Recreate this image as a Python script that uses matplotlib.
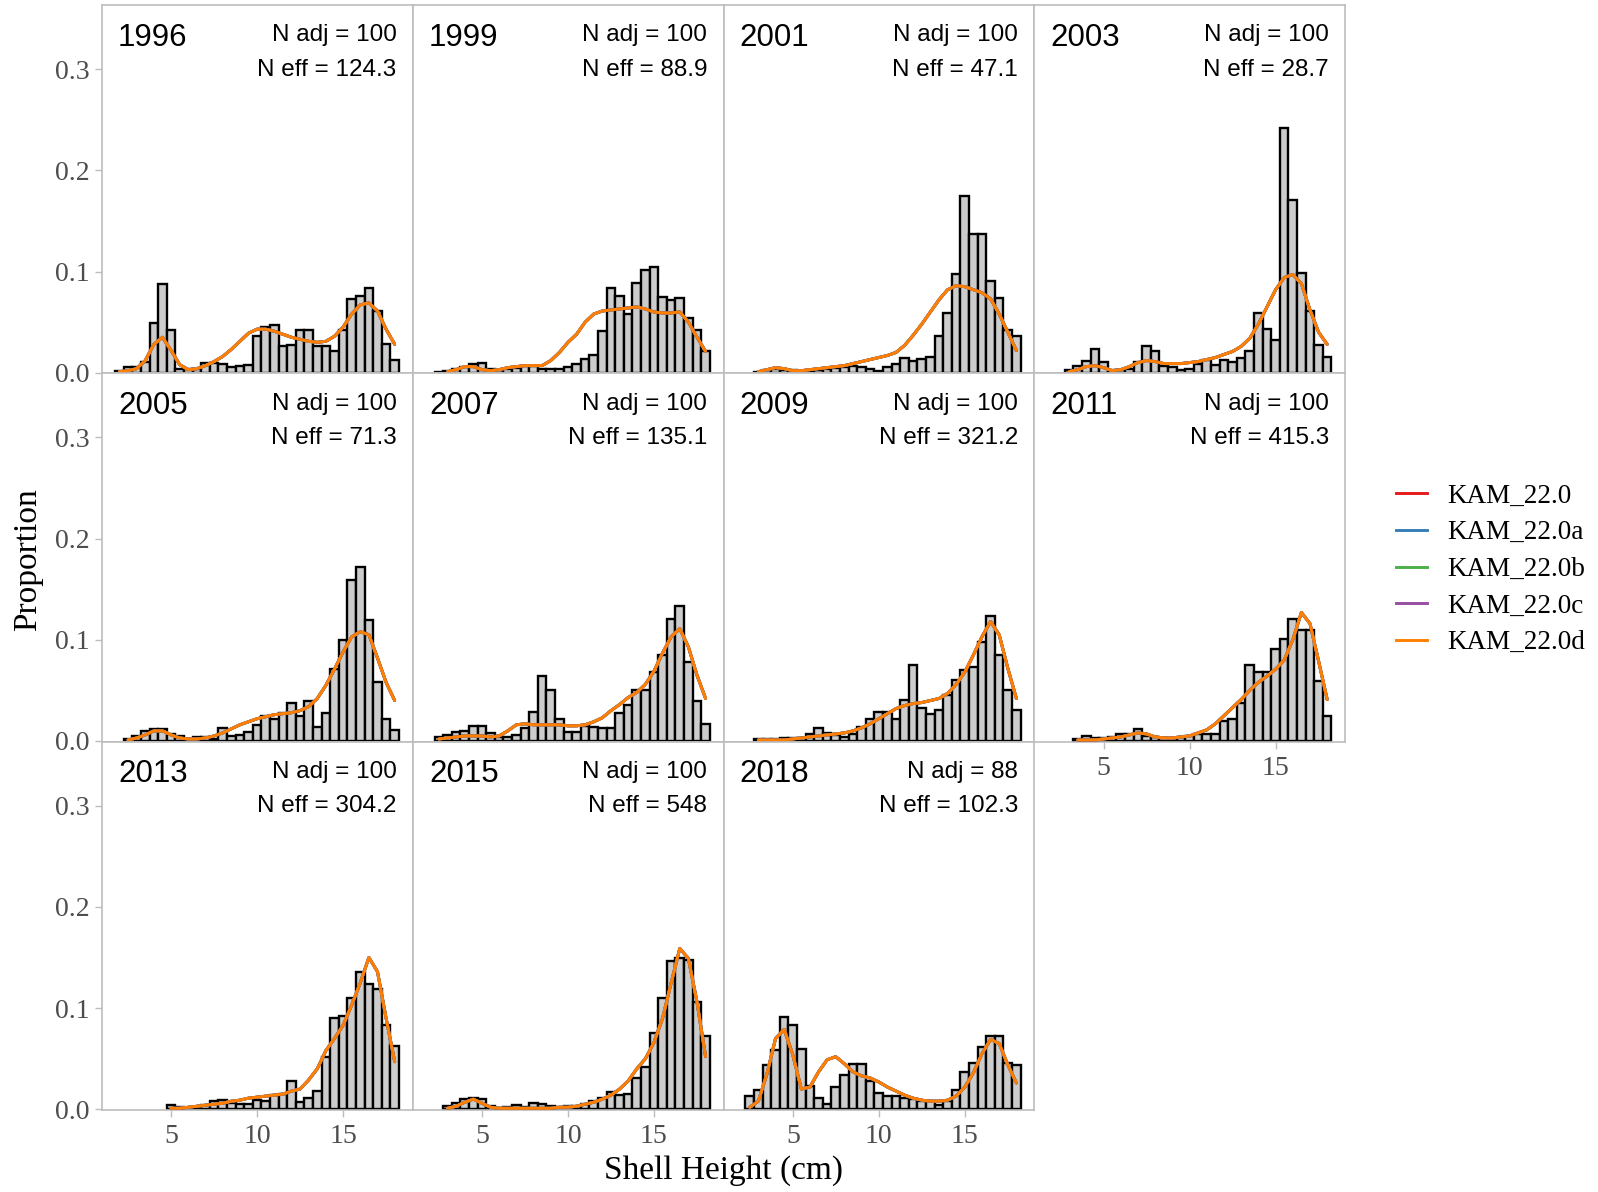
import numpy as np
import matplotlib.pyplot as plt
from matplotlib.lines import Line2D

# shell height bins (cm)
length_bins = [2.0, 2.5, 3.0, 3.5, 4.0, 4.5, 5.0, 5.5, 6.0, 6.5, 7.0, 7.5, 8.0, 8.5, 9.0, 9.5, 10.0,
               10.5, 11.0, 11.5, 12.0, 12.5, 13.0, 13.5, 14.0, 14.5, 15.0, 15.5, 16.0, 16.5, 17.0, 17.5, 18.0]

years = ['1996', '1999', '2001', '2003', '2005', '2007', '2009', '2011', '2013', '2015', '2018']
n_adj = ['100', '100', '100', '100', '100', '100', '100', '100', '100', '100', '88']
n_eff = ['124.3', '88.9', '47.1', '28.7', '71.3', '135.1', '321.2', '415.3', '304.2', '548', '102.3']

models = ['KAM_22.0', 'KAM_22.0a', 'KAM_22.0b', 'KAM_22.0c', 'KAM_22.0d']
model_colors = ['#E41A1C', '#377EB8', '#4DAF4A', '#984EA3', '#FF7F00']

# observed proportions
obs = {
    '1996': [0.002, 0.006, 0.006, 0.011, 0.049, 0.088, 0.042, 0.004, 0.004, 0.004, 0.010, 0.010, 0.009,
             0.006, 0.007, 0.008, 0.036, 0.045, 0.047, 0.026, 0.027, 0.042, 0.042, 0.026, 0.026, 0.021,
             0.042, 0.073, 0.076, 0.084, 0.061, 0.028, 0.013],
    '1999': [0, 0.001, 0.002, 0.004, 0.006, 0.009, 0.010, 0.004, 0.003, 0.004, 0.005, 0.007, 0.007,
             0.004, 0.004, 0.004, 0.006, 0.009, 0.014, 0.017, 0.041, 0.084, 0.076, 0.058, 0.089, 0.101,
             0.104, 0.075, 0.072, 0.074, 0.054, 0.042, 0.021],
    '2001': [0, 0, 0.001, 0.003, 0.004, 0.003, 0.003, 0.002, 0.002, 0.003, 0.004, 0.005, 0.006,
             0.007, 0.006, 0.004, 0.002, 0.006, 0.009, 0.015, 0.012, 0.014, 0.016, 0.036, 0.059, 0.098,
             0.175, 0.137, 0.137, 0.091, 0.074, 0.042, 0.036],
    '2003': [0, 0, 0.003, 0.007, 0.012, 0.023, 0.011, 0.003, 0.003, 0.004, 0.011, 0.026, 0.021,
             0.007, 0.006, 0.003, 0.004, 0.009, 0.013, 0.008, 0.013, 0.011, 0.015, 0.021, 0.059, 0.043,
             0.032, 0.242, 0.171, 0.099, 0.061, 0.027, 0.016],
    '2005': [0, 0.002, 0.005, 0.010, 0.012, 0.012, 0.007, 0.005, 0.002, 0.004, 0.004, 0.002, 0.013,
             0.005, 0.006, 0.009, 0.016, 0.025, 0.022, 0.028, 0.038, 0.025, 0.040, 0.014, 0.028, 0.071,
             0.100, 0.159, 0.172, 0.120, 0.058, 0.022, 0.011],
    '2007': [0, 0.004, 0.006, 0.009, 0.010, 0.015, 0.015, 0.008, 0.004, 0.004, 0.006, 0.013, 0.029,
             0.064, 0.050, 0.022, 0.009, 0.009, 0.015, 0.014, 0.013, 0.013, 0.028, 0.036, 0.050, 0.050,
             0.068, 0.085, 0.121, 0.133, 0.078, 0.040, 0.017],
    '2009': [0, 0, 0.002, 0.002, 0.002, 0.003, 0.003, 0.003, 0.007, 0.013, 0.008, 0.006, 0.004,
             0.007, 0.014, 0.022, 0.029, 0.029, 0.022, 0.041, 0.075, 0.033, 0.027, 0.031, 0.045, 0.060,
             0.070, 0.073, 0.098, 0.124, 0.085, 0.050, 0.031],
    '2011': [0, 0, 0, 0.002, 0.005, 0.003, 0.003, 0.004, 0.007, 0.007, 0.012, 0.005, 0.004,
             0.003, 0.003, 0.004, 0.005, 0.007, 0.007, 0.007, 0.020, 0.022, 0.038, 0.075, 0.068, 0.068,
             0.091, 0.101, 0.121, 0.110, 0.110, 0.059, 0.025],
    '2013': [0, 0, 0, 0, 0, 0, 0.004, 0.002, 0.001, 0.002, 0.004, 0.008, 0.009,
             0.006, 0.005, 0.005, 0.009, 0.008, 0.014, 0.015, 0.028, 0.007, 0.011, 0.018, 0.052, 0.090,
             0.092, 0.110, 0.136, 0.124, 0.119, 0.083, 0.063],
    '2015': [0, 0, 0.003, 0.006, 0.010, 0.011, 0.010, 0.003, 0.001, 0.002, 0.004, 0.002, 0.006,
             0.005, 0.003, 0.002, 0.003, 0.003, 0.005, 0.008, 0.011, 0.017, 0.014, 0.015, 0.031, 0.042,
             0.075, 0.110, 0.147, 0.150, 0.148, 0.106, 0.072],
    '2018': [0, 0.013, 0.019, 0.044, 0.059, 0.091, 0.083, 0.060, 0.023, 0.011, 0.005, 0.022, 0.034,
             0.045, 0.045, 0.028, 0.016, 0.013, 0.013, 0.011, 0.010, 0.008, 0.008, 0.004, 0.008, 0.019,
             0.037, 0.046, 0.062, 0.072, 0.072, 0.046, 0.044],
}

# model fits (the five runs are nearly identical)
fit = {
    '1996': [0.001, 0.002, 0.004, 0.012, 0.028, 0.035, 0.022, 0.008, 0.003, 0.004, 0.007, 0.011, 0.016,
             0.023, 0.031, 0.039, 0.043, 0.043, 0.041, 0.038, 0.035, 0.033, 0.031, 0.030, 0.031, 0.036,
             0.045, 0.058, 0.067, 0.069, 0.061, 0.043, 0.028],
    '1999': [None, None, 0.001, 0.003, 0.006, 0.006, 0.003, 0.002, 0.003, 0.005, 0.006, 0.007, 0.007,
             0.007, 0.012, 0.020, 0.030, 0.038, 0.050, 0.058, 0.061, 0.062, 0.063, 0.064, 0.065, 0.063,
             0.060, 0.059, 0.059, 0.060, 0.050, 0.035, 0.021],
    '2001': [None, None, 0.001, 0.003, 0.005, 0.004, 0.002, 0.002, 0.003, 0.004, 0.005, 0.006, 0.007,
             0.009, 0.011, 0.013, 0.015, 0.017, 0.020, 0.027, 0.037, 0.048, 0.060, 0.072, 0.082, 0.086,
             0.085, 0.082, 0.079, 0.073, 0.058, 0.040, 0.022],
    '2003': [None, None, 0.001, 0.003, 0.006, 0.007, 0.005, 0.002, 0.003, 0.006, 0.010, 0.012, 0.011,
             0.009, 0.009, 0.009, 0.010, 0.011, 0.013, 0.015, 0.018, 0.021, 0.026, 0.034, 0.048, 0.065,
             0.082, 0.094, 0.097, 0.088, 0.062, 0.040, 0.028],
    '2005': [None, 0.001, 0.003, 0.006, 0.010, 0.010, 0.006, 0.003, 0.002, 0.002, 0.003, 0.005, 0.008,
             0.012, 0.016, 0.019, 0.022, 0.024, 0.026, 0.027, 0.028, 0.030, 0.034, 0.042, 0.055, 0.071,
             0.088, 0.103, 0.108, 0.105, 0.082, 0.058, 0.040],
    '2007': [None, 0.002, 0.003, 0.004, 0.005, 0.005, 0.005, 0.004, 0.005, 0.010, 0.016, 0.017, 0.016,
             0.016, 0.016, 0.016, 0.015, 0.015, 0.016, 0.019, 0.023, 0.030, 0.036, 0.043, 0.048, 0.056,
             0.069, 0.087, 0.103, 0.111, 0.093, 0.065, 0.042],
    '2009': [None, None, 0.001, 0.001, 0.001, 0.001, 0.002, 0.003, 0.004, 0.005, 0.006, 0.007, 0.008,
             0.010, 0.013, 0.017, 0.022, 0.027, 0.032, 0.035, 0.037, 0.038, 0.040, 0.042, 0.047, 0.056,
             0.068, 0.085, 0.103, 0.118, 0.105, 0.072, 0.042],
    '2011': [None, None, None, 0.001, 0.001, 0.001, 0.002, 0.003, 0.004, 0.006, 0.008, 0.007, 0.004,
             0.003, 0.003, 0.004, 0.005, 0.008, 0.011, 0.017, 0.025, 0.033, 0.041, 0.050, 0.058, 0.064,
             0.071, 0.080, 0.100, 0.127, 0.116, 0.079, 0.041],
    '2013': [None, None, None, None, None, None, 0.001, 0.001, 0.002, 0.003, 0.004, 0.005, 0.006,
             0.008, 0.009, 0.011, 0.012, 0.013, 0.014, 0.015, 0.018, 0.020, 0.029, 0.040, 0.058, 0.070,
             0.083, 0.103, 0.125, 0.150, 0.136, 0.090, 0.047],
    '2015': [None, None, 0.001, 0.003, 0.007, 0.010, 0.006, 0.002, 0.001, 0.001, 0.001, 0.001, 0.001,
             0.001, 0.001, 0.002, 0.002, 0.003, 0.005, 0.007, 0.010, 0.014, 0.020, 0.028, 0.040, 0.050,
             0.066, 0.090, 0.125, 0.159, 0.149, 0.106, 0.052],
    '2018': [None, 0.002, 0.008, 0.035, 0.070, 0.079, 0.054, 0.020, 0.022, 0.037, 0.049, 0.052, 0.045,
             0.037, 0.033, 0.031, 0.027, 0.022, 0.018, 0.014, 0.011, 0.009, 0.008, 0.008, 0.009, 0.013,
             0.022, 0.036, 0.055, 0.069, 0.065, 0.044, 0.026],
}

serif = ['Liberation Serif', 'DejaVu Serif']
sans = ['Liberation Sans', 'DejaVu Sans']
grid_col = '#bdbdbd'
tick_col = '#4d4d4d'

W, H = 1598, 1192
fig = plt.figure(figsize=(W / 100, H / 100), dpi=100)

col_left = [101.9, 412.8, 723.6, 1034.4]
pw = 310.85
row_top = [5.1, 373.4, 741.7]
ph = 368.3

x = np.array(length_bins)
for i, yr in enumerate(years):
    r, c = divmod(i, 4)
    ax = fig.add_axes([col_left[c] / W, 1 - (row_top[r] + ph) / H, pw / W, ph / H])
    o = np.array(obs[yr], dtype=float)
    keep = o > 0
    ax.bar(x[keep], o[keep], width=0.5, color='#cccccc', edgecolor='black', linewidth=1.7, zorder=2)
    f = np.array(fit[yr], dtype=float)
    for m, col in zip(models, model_colors):
        ax.plot(x, f, color=col, lw=2.1, zorder=3, solid_capstyle='round')

    ax.set_xlim(0.98, 19.05)
    ax.set_ylim(-0.0007, 0.3633)
    ax.set_xticks([5, 10, 15])
    ax.set_yticks([0.0, 0.1, 0.2, 0.3])
    ax.tick_params(colors=grid_col, length=5, width=1.0, labelcolor=tick_col, labelsize=20)
    ax.tick_params(axis='x', pad=5)
    ax.tick_params(axis='y', pad=4)
    for sp in ax.spines.values():
        sp.set_color(grid_col)
        sp.set_linewidth(1.2)
    for lab in ax.get_xticklabels() + ax.get_yticklabels():
        lab.set_family(serif)
    if c != 0:
        ax.tick_params(axis='y', left=False, labelleft=False)
    else:
        ax.set_yticklabels(['0.0', '0.1', '0.2', '0.3'])
    bottom_row = (r == 2) or (r == 1 and c == 3)
    if not bottom_row:
        ax.tick_params(axis='x', bottom=False, labelbottom=False)

    ax.text(0.052, 0.912, yr, transform=ax.transAxes, fontsize=22.5, family=sans,
            ha='left', va='center')
    ax.text(0.9475, 0.918, 'N adj = ' + n_adj[i], transform=ax.transAxes, fontsize=17.5,
            family=sans, ha='right', va='center')
    ax.text(0.9475, 0.825, 'N eff = ' + n_eff[i], transform=ax.transAxes, fontsize=17.5,
            family=sans, ha='right', va='center')

fig.text((col_left[0] + 2 * pw) / W, 1 - 1171 / H, 'Shell Height (cm)', family=serif,
         fontsize=24, ha='center', va='center')
fig.text(28 / W, 1 - 560 / H, 'Proportion', family=serif, fontsize=24, rotation=90,
         ha='center', va='center')

handles = [Line2D([0], [0], color=col, lw=2.1) for col in model_colors]
fig.legend(handles, models, loc='center left', bbox_to_anchor=(1396 / W, 1 - 569.5 / H),
           frameon=False, prop={'family': serif, 'size': 19.5}, handlelength=1.15,
           handletextpad=0.75, labelspacing=0.43, borderpad=0, borderaxespad=0)

fig.savefig('out.png', dpi=100)
